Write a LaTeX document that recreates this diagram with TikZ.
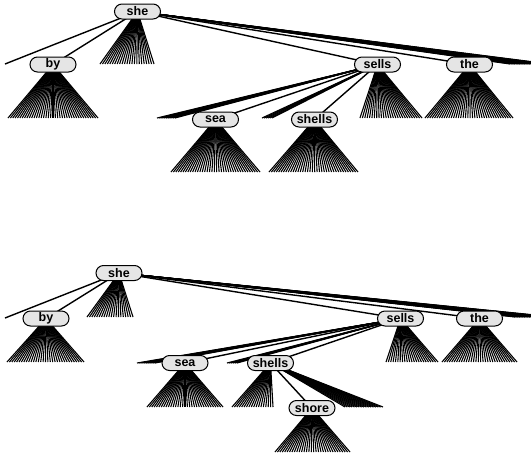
\documentclass[tikz,border=0pt]{standalone}
\usepackage{fontspec}
\setmainfont{Liberation Sans}
\usetikzlibrary{shapes.misc}
\pgfdeclarelayer{edges}
\pgfsetlayers{edges,main}
\tikzset{
  word/.style={rounded rectangle, draw, line width=1pt, fill=black!10,
    minimum width=46pt, minimum height=15pt, inner sep=0pt,
    font=\fontsize{12.5}{13}\selectfont\bfseries},
  edge/.style={line width=1.4pt},
  fanline/.style={line width=1.1pt}
}
\newcommand\fanlines[5]{%
  \foreach \k in {0,...,#5}{\draw[fanline] (#1.center) -- ({#2+(#3-#2)*\k/#5}, #4);}}
\begin{document}
\begin{tikzpicture}[x=1pt,y=-1pt]
\useasboundingbox (0,0) rectangle (531,456);
\clip (0,0) rectangle (531,456);
% ---------- top tree ----------
\node[word] (she1) at (137.5,11.5) {she};
\node[word] (by1) at (53,64.5) {by};
\node[word] (sells1) at (377.5,64.5) {sells};
\node[word] (the1) at (469.5,64.5) {the};
\node[word] (sea1) at (215.5,119.5) {sea};
\node[word] (shells1) at (314.5,119.5) {shells};
\coordinate (leaf1) at (5,64);
\begin{pgfonlayer}{edges}
\draw[edge] (she1.center) -- (leaf1);
\draw[edge] (she1.center) -- (by1.center);
\draw[edge] (she1.center) -- (sells1.center);
\draw[edge] (she1.center) -- (the1.center);
\draw[edge] (sells1.center) -- (sea1.center);
\draw[edge] (sells1.center) -- (shells1.center);
\fanlines{she1}{100}{154}{64}{22}
\fanlines{she1}{510}{550}{64}{16}
\fanlines{by1}{8}{98}{118}{38}
\fanlines{sells1}{360}{422}{118}{26}
\fanlines{sells1}{157}{175}{118}{8}
\fanlines{sells1}{262}{272}{118}{5}
\fanlines{the1}{425}{513}{118}{37}
\fanlines{sea1}{171}{260}{172}{37}
\fanlines{shells1}{269}{358}{172}{37}
\end{pgfonlayer}
% ---------- bottom tree ----------
\node[word] (she2) at (119,273) {she};
\node[word] (by2) at (46,318.5) {by};
\node[word] (sells2) at (400.5,318.5) {sells};
\node[word] (the2) at (479.5,318.5) {the};
\node[word] (sea2) at (185,363) {sea};
\node[word] (shells2) at (270.5,363) {shells};
\node[word] (shore2) at (312,408) {shore};
\coordinate (leaf2) at (5,318);
\begin{pgfonlayer}{edges}
\draw[edge] (she2.center) -- (leaf2);
\draw[edge] (she2.center) -- (by2.center);
\draw[edge] (she2.center) -- (sells2.center);
\draw[edge] (she2.center) -- (the2.center);
\draw[edge] (sells2.center) -- (sea2.center);
\draw[edge] (sells2.center) -- (shells2.center);
\draw[edge] (shells2.center) -- (shore2.center);
\fanlines{she2}{87}{133}{317}{19}
\fanlines{she2}{515}{555}{317}{16}
\fanlines{by2}{7}{84}{362}{32}
\fanlines{sells2}{386}{438}{362}{22}
\fanlines{sells2}{137}{155}{363}{8}
\fanlines{sells2}{227}{237}{363}{5}
\fanlines{the2}{442}{517}{362}{31}
\fanlines{sea2}{147}{223}{407}{32}
\fanlines{shells2}{232}{273}{407}{17}
\fanlines{shells2}{345}{383}{407}{16}
\fanlines{shore2}{275}{350}{452}{31}
\end{pgfonlayer}
\end{tikzpicture}
\end{document}
